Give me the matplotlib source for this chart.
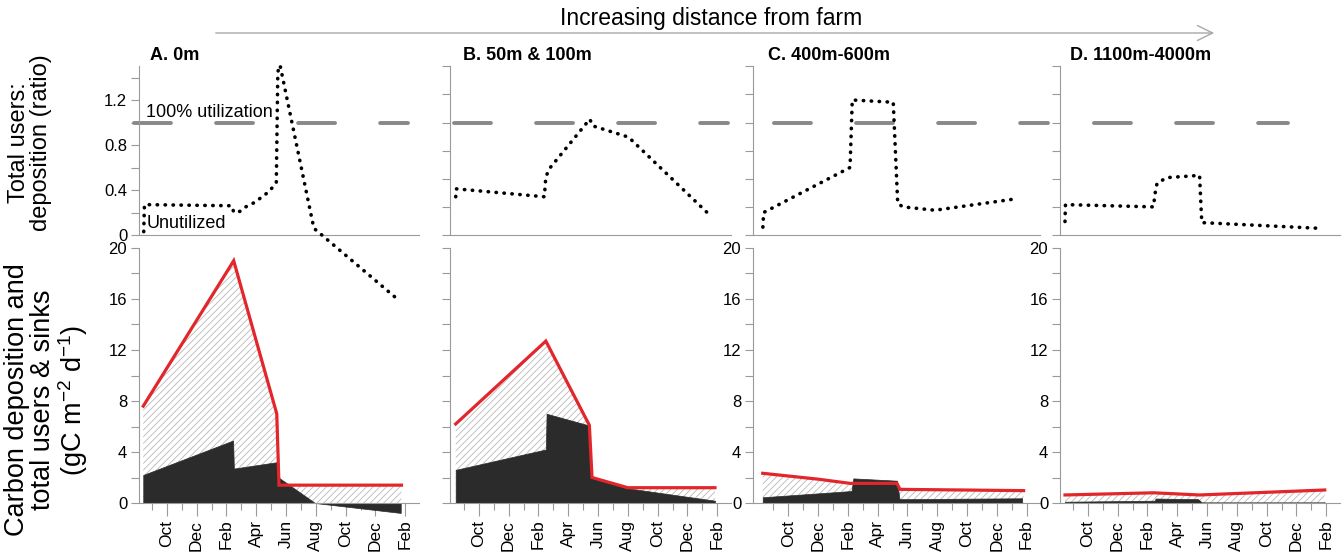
import matplotlib
matplotlib.use('Agg')
import matplotlib.pyplot as plt
from matplotlib.patches import FancyArrowPatch
from matplotlib.ticker import FixedLocator, NullFormatter

plt.rcParams['font.family'] = ['Liberation Sans', 'DejaVu Sans']
plt.rcParams['mathtext.fontset'] = 'custom'
plt.rcParams['mathtext.rm'] = 'Liberation Sans'
plt.rcParams['mathtext.it'] = 'Liberation Sans:italic'
plt.rcParams['hatch.linewidth'] = 0.6

# ---------------- data (x = months after 1 Aug of first year) ----------------
panel_titles = ["A. 0m", "B. 50m & 100m", "C. 400m-600m", "D. 1100m-4000m"]
month_ticks = [2, 4, 6, 8, 10, 12, 14, 16, 18]
month_labels = ["Oct", "Dec", "Feb", "Apr", "Jun", "Aug", "Oct", "Dec", "Feb"]
month_minor = [1, 3, 5, 7, 9, 11, 13, 15, 17]

# Top row: total users : deposition ratio
ratio_t_A = [0.45, 0.5, 6.35, 6.5, 6.9, 7.3, 7.9, 8.4, 8.9, 9.35, 9.45, 9.6, 11.87, 17.3]
ratio_v_A = [0.03, 0.27, 0.26, 0.2, 0.21, 0.25, 0.29, 0.34, 0.39, 0.47, 1.45, 1.51, 0.06, -0.55]
ratio_t_B = [0.45, 0.5, 6.4, 6.5, 6.8, 9.45, 9.65, 12.05, 17.4]
ratio_v_B = [0.34, 0.41, 0.34, 0.52, 0.6, 1.03, 0.97, 0.87, 0.19]
ratio_t_C = [0.3, 0.35, 6.15, 6.3, 9.05, 9.35, 9.7, 11.85, 17.2]
ratio_v_C = [0.07, 0.2, 0.6, 1.2, 1.18, 0.28, 0.25, 0.22, 0.32]
ratio_t_D = [0.47, 0.5, 6.4, 6.55, 6.65, 7.3, 9.5, 9.65, 17.45]
ratio_v_D = [0.12, 0.27, 0.25, 0.4, 0.46, 0.51, 0.53, 0.11, 0.06]

# Bottom row: carbon deposition (red line, hatched) and total users & sinks (black)
dep_t_A = [0.42, 6.49, 9.38, 9.53, 17.75]
dep_v_A = [7.6, 19.0, 7.0, 1.4, 1.4]
users_t_A = [0.42, 6.45, 6.5, 9.38, 9.5, 11.95, 17.7]
users_v_A = [2.2, 4.9, 2.7, 3.2, 2.0, 0.0, -0.78]

dep_t_B = [0.45, 6.5, 9.42, 9.6, 12.0, 17.85]
dep_v_B = [6.2, 12.7, 6.1, 2.0, 1.2, 1.2]
users_t_B = [0.45, 6.5, 6.55, 9.35, 9.58, 12.0, 17.85]
users_v_B = [2.6, 4.2, 7.0, 6.1, 1.95, 1.15, 0.18]

dep_t_C = [0.29, 4.0, 6.15, 9.3, 9.5, 17.8]
dep_v_C = [2.33, 1.87, 1.54, 1.54, 1.07, 0.97]
users_t_C = [0.29, 6.25, 6.37, 9.3, 9.47, 17.7]
users_v_C = [0.45, 0.94, 1.93, 1.75, 0.3, 0.37]

dep_t_D = [0.47, 6.4, 9.5, 17.9]
dep_v_D = [0.63, 0.8, 0.63, 1.02]
users_t_D = [0.47, 6.5, 6.55, 9.4, 9.65, 17.9]
users_v_D = [0.1, 0.18, 0.35, 0.3, 0.05, 0.05]

utilization_level = 1.0

ratio_t = [ratio_t_A, ratio_t_B, ratio_t_C, ratio_t_D]
ratio_v = [ratio_v_A, ratio_v_B, ratio_v_C, ratio_v_D]
dep_t = [dep_t_A, dep_t_B, dep_t_C, dep_t_D]
dep_v = [dep_v_A, dep_v_B, dep_v_C, dep_v_D]
users_t = [users_t_A, users_t_B, users_t_C, users_t_D]
users_v = [users_v_A, users_v_B, users_v_C, users_v_D]

# ---------------- layout (pixels) ----------------
W, H = 1342, 554
fig = plt.figure(figsize=(W / 100, H / 100), dpi=100)

spine_px = [139, 450, 753, 1060]
month0_px = [137, 449, 758.4, 1058]
ppm = 14.9
right_month = 18.9
dash_px = [(134, 408), (454, 728), (774, 1048), (1094, 1288)]
title_px = [150, 463, 768, 1070]

top_bottom_px, top_top_px = 235, 235 - 1.5 * 112.5
bot_zero_px, bot_per_unit = 503, 12.75
bot_ymin, bot_ymax = -1.2, 20

GRAY = '#9a9a9a'
RED = '#e3262b'
BLACK = '#2b2b2b'

for i in range(4):
    xl = (spine_px[i] - month0_px[i]) / ppm
    wpx = (right_month - xl) * ppm
    left = spine_px[i] / W
    width = wpx / W

    # ---- top axes ----
    axt = fig.add_axes([left, 1 - top_bottom_px / H, width, (top_bottom_px - top_top_px) / H])
    axt.set_zorder(3)
    axt.patch.set_visible(False)
    axt.set_xlim(xl, right_month)
    axt.set_ylim(0, 1.5)
    for s in ['top', 'right']:
        axt.spines[s].set_visible(False)
    for s in ['left', 'bottom']:
        axt.spines[s].set_color(GRAY)
        axt.spines[s].set_linewidth(0.8)
    axt.set_xticks([])
    if i == 0:
        axt.yaxis.set_major_locator(FixedLocator([0, 0.4, 0.8, 1.2]))
        axt.set_yticklabels(["0", "0.4", "0.8", "1.2"])
        axt.yaxis.set_minor_locator(FixedLocator([0.2, 0.6, 1.0, 1.4]))
    else:
        axt.yaxis.set_major_locator(FixedLocator([0, 0.25, 0.5, 0.75, 1.0, 1.25, 1.5]))
        axt.yaxis.set_major_formatter(NullFormatter())
    axt.tick_params(axis='y', which='both', direction='out', length=5.5, width=0.8,
                    color=GRAY, labelsize=12, pad=3)

    # dashed 100% utilization line
    d0 = (dash_px[i][0] - month0_px[i]) / ppm
    d1 = (dash_px[i][1] - month0_px[i]) / ppm
    axt.plot([d0, d1], [utilization_level, utilization_level], color='#888888', lw=2.8,
             linestyle=(0, (9.5, 11.6)), dash_capstyle='round', clip_on=False, zorder=2)

    # dotted ratio line
    axt.plot(ratio_t[i], ratio_v[i], color='black', lw=2.6, linestyle=(0, (0.1, 2.1)),
             dash_capstyle='round', clip_on=False, zorder=4)

    # ---- bottom axes ----
    axb = fig.add_axes([left, 1 - (bot_zero_px - bot_ymin * bot_per_unit) / H, width,
                        (bot_ymax - bot_ymin) * bot_per_unit / H])
    axb.set_xlim(xl, right_month)
    axb.set_ylim(bot_ymin, bot_ymax)
    for s in ['top', 'right']:
        axb.spines[s].set_visible(False)
    for s in ['left', 'bottom']:
        axb.spines[s].set_color(GRAY)
        axb.spines[s].set_linewidth(0.8)
    axb.spines['bottom'].set_position(('data', 0))
    axb.spines['left'].set_bounds(0, 20)

    axb.fill_between(dep_t[i], 0, dep_v[i], facecolor='white', edgecolor='#b8b8b8',
                     hatch='/////', linewidth=0, zorder=1)
    axb.fill_between(users_t[i], 0, users_v[i], facecolor=BLACK, edgecolor=BLACK,
                     linewidth=0.5, zorder=2)
    axb.plot(dep_t[i], dep_v[i], color=RED, lw=2.3, zorder=3, solid_joinstyle='miter')

    axb.set_xticks(month_ticks)
    axb.set_xticklabels(month_labels, rotation=90)
    axb.xaxis.set_minor_locator(FixedLocator(month_minor))
    axb.tick_params(axis='x', which='major', direction='out', length=9, width=0.8,
                    color=GRAY, labelsize=12.5, pad=3)
    axb.tick_params(axis='x', which='minor', direction='out', length=5, width=0.8, color=GRAY)

    if i == 1:
        axb.yaxis.set_major_locator(FixedLocator([0, 2, 4, 6, 8, 10, 12, 14, 16, 18, 20]))
        axb.yaxis.set_major_formatter(NullFormatter())
    else:
        axb.yaxis.set_major_locator(FixedLocator([0, 4, 8, 12, 16, 20]))
        axb.set_yticklabels(["0", "4", "8", "12", "16", "20"])
        axb.yaxis.set_minor_locator(FixedLocator([2, 6, 10, 14, 18]))
    axb.tick_params(axis='y', which='both', direction='out', length=5.5, width=0.8,
                    color=GRAY, labelsize=12, pad=3)

    if i == 0:
        axt.text((146 - month0_px[0]) / ppm, 1.05, "100% utilization", fontsize=13,
                 ha='left', va='baseline', zorder=5)
        axt.text((147 - month0_px[0]) / ppm, 0.06, "Unutilized", fontsize=13,
                 ha='left', va='baseline', zorder=5)

    fig.text(title_px[i] / W, 1 - 55 / H, panel_titles[i], fontsize=13, fontweight='bold',
             ha='left', va='center')

# axis labels
fig.text(30.5 / W, 1 - 143 / H, "Total users:\ndeposition (ratio)", rotation=90,
         ha='center', va='center', fontsize=17, linespacing=1.0)
fig.text(47 / W, 1 - 400 / H, "Carbon deposition and\ntotal users & sinks\n(gC m$^{-2}$ d$^{-1}$)",
         rotation=90, ha='center', va='center', fontsize=19.5, linespacing=1.0)

# header arrow and title
arrow = FancyArrowPatch((213 / W, 1 - 33 / H), (1217 / W, 1 - 33 / H), transform=fig.transFigure,
                        arrowstyle='->,head_length=0.55,head_width=0.27', mutation_scale=20,
                        color='#a8a8a8', lw=1.0)
fig.add_artist(arrow)
fig.text(711 / W, 1 - 18 / H, "Increasing distance from farm", ha='center', va='center',
         fontsize=16.5)

fig.savefig('out.png', dpi=100)
